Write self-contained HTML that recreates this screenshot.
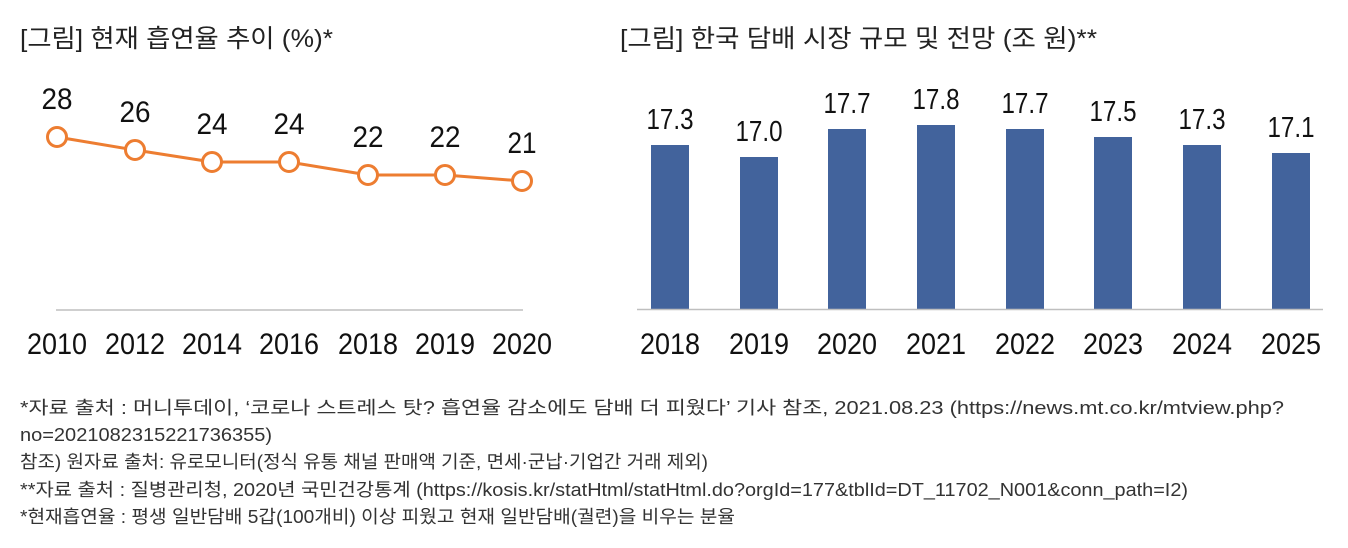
<!DOCTYPE html>
<html>
<head>
<meta charset="utf-8">
<style>
  html, body { margin:0; padding:0; background:#fff; }
  svg { display:block; }
  .ko { font-family: "Liberation Sans", "Noto Sans CJK KR", "NanumGothic", sans-serif; }
  .num { font-family: "Liberation Sans", "DejaVu Sans", sans-serif; fill:#111; }
</style>
</head>
<body>
<svg width="1348" height="548" viewBox="0 0 1348 548" xmlns="http://www.w3.org/2000/svg">
  <rect width="1348" height="548" fill="#fff"/>

  <!-- Titles -->
  <text class="ko" x="20" y="47" font-size="25" fill="#222" textLength="313" lengthAdjust="spacingAndGlyphs">[그림] 현재 흡연율 추이 (%)*</text>
  <text class="ko" x="620" y="47" font-size="25" fill="#222" textLength="477" lengthAdjust="spacingAndGlyphs">[그림] 한국 담배 시장 규모 및 전망 (조 원)**</text>

  <!-- Left chart axis -->
  <line x1="56" y1="310" x2="523" y2="310" stroke="#BFBFBF" stroke-width="1.5"/>

  <!-- Left line series -->
  <polyline points="57,137 135,150 212,162 289,162 368,175 445,175 522,181" fill="none" stroke="#ED7D31" stroke-width="3"/>
  <g fill="#fff" stroke="#ED7D31" stroke-width="3">
    <circle cx="57" cy="137" r="9.5"/>
    <circle cx="135" cy="150" r="9.5"/>
    <circle cx="212" cy="162" r="9.5"/>
    <circle cx="289" cy="162" r="9.5"/>
    <circle cx="368" cy="175" r="9.5"/>
    <circle cx="445" cy="175" r="9.5"/>
    <circle cx="522" cy="181" r="9.5"/>
  </g>
  <g class="num" font-size="30" text-anchor="middle">
    <text x="57" y="109" textLength="31" lengthAdjust="spacingAndGlyphs">28</text>
    <text x="135" y="122" textLength="31" lengthAdjust="spacingAndGlyphs">26</text>
    <text x="212" y="134" textLength="31" lengthAdjust="spacingAndGlyphs">24</text>
    <text x="289" y="134" textLength="31" lengthAdjust="spacingAndGlyphs">24</text>
    <text x="368" y="147" textLength="31" lengthAdjust="spacingAndGlyphs">22</text>
    <text x="445" y="147" textLength="31" lengthAdjust="spacingAndGlyphs">22</text>
    <text x="522" y="153" textLength="29" lengthAdjust="spacingAndGlyphs">21</text>
  </g>
  <g class="num" font-size="30" text-anchor="middle">
    <text x="57" y="354" textLength="60" lengthAdjust="spacingAndGlyphs">2010</text>
    <text x="135" y="354" textLength="60" lengthAdjust="spacingAndGlyphs">2012</text>
    <text x="212" y="354" textLength="60" lengthAdjust="spacingAndGlyphs">2014</text>
    <text x="289" y="354" textLength="60" lengthAdjust="spacingAndGlyphs">2016</text>
    <text x="368" y="354" textLength="60" lengthAdjust="spacingAndGlyphs">2018</text>
    <text x="445" y="354" textLength="60" lengthAdjust="spacingAndGlyphs">2019</text>
    <text x="522" y="354" textLength="60" lengthAdjust="spacingAndGlyphs">2020</text>
  </g>

  <!-- Right bar chart -->
  <g fill="#42639C">
    <rect x="651" y="145" width="38" height="164"/>
    <rect x="740" y="157" width="38" height="152"/>
    <rect x="828" y="129" width="38" height="180"/>
    <rect x="917" y="125" width="38" height="184"/>
    <rect x="1006" y="129" width="38" height="180"/>
    <rect x="1094" y="137" width="38" height="172"/>
    <rect x="1183" y="145" width="38" height="164"/>
    <rect x="1272" y="153" width="38" height="156"/>
  </g>
  <line x1="637" y1="309.5" x2="1323" y2="309.5" stroke="#BFBFBF" stroke-width="1.5"/>

  <g class="num" font-size="29" text-anchor="middle">
    <text x="670" y="129" textLength="47" lengthAdjust="spacingAndGlyphs">17.3</text>
    <text x="759" y="141" textLength="47" lengthAdjust="spacingAndGlyphs">17.0</text>
    <text x="847" y="113" textLength="47" lengthAdjust="spacingAndGlyphs">17.7</text>
    <text x="936" y="109" textLength="47" lengthAdjust="spacingAndGlyphs">17.8</text>
    <text x="1025" y="113" textLength="47" lengthAdjust="spacingAndGlyphs">17.7</text>
    <text x="1113" y="121" textLength="47" lengthAdjust="spacingAndGlyphs">17.5</text>
    <text x="1202" y="129" textLength="47" lengthAdjust="spacingAndGlyphs">17.3</text>
    <text x="1291" y="137" textLength="47" lengthAdjust="spacingAndGlyphs">17.1</text>
  </g>
  <g class="num" font-size="30" text-anchor="middle">
    <text x="670" y="354" textLength="60" lengthAdjust="spacingAndGlyphs">2018</text>
    <text x="759" y="354" textLength="60" lengthAdjust="spacingAndGlyphs">2019</text>
    <text x="847" y="354" textLength="60" lengthAdjust="spacingAndGlyphs">2020</text>
    <text x="936" y="354" textLength="60" lengthAdjust="spacingAndGlyphs">2021</text>
    <text x="1025" y="354" textLength="60" lengthAdjust="spacingAndGlyphs">2022</text>
    <text x="1113" y="354" textLength="60" lengthAdjust="spacingAndGlyphs">2023</text>
    <text x="1202" y="354" textLength="60" lengthAdjust="spacingAndGlyphs">2024</text>
    <text x="1291" y="354" textLength="60" lengthAdjust="spacingAndGlyphs">2025</text>
  </g>

  <!-- Footnotes -->
  <g class="ko" font-size="18" fill="#333">
    <text x="20" y="414" textLength="1264" lengthAdjust="spacingAndGlyphs">*자료 출처 : 머니투데이, ‘코로나 스트레스 탓? 흡연율 감소에도 담배 더 피웠다’ 기사 참조, 2021.08.23 (https://news.mt.co.kr/mtview.php?</text>
    <text x="20" y="441" textLength="252" lengthAdjust="spacingAndGlyphs">no=2021082315221736355)</text>
    <text x="20" y="468" textLength="688" lengthAdjust="spacingAndGlyphs">참조) 원자료 출처: 유로모니터(정식 유통 채널 판매액 기준, 면세·군납·기업간 거래 제외)</text>
    <text x="20" y="496" textLength="1168" lengthAdjust="spacingAndGlyphs">**자료 출처 : 질병관리청, 2020년 국민건강통계 (https://kosis.kr/statHtml/statHtml.do?orgId=177&amp;tblId=DT_11702_N001&amp;conn_path=I2)</text>
    <text x="20" y="523" textLength="715" lengthAdjust="spacingAndGlyphs">*현재흡연율 : 평생 일반담배 5갑(100개비) 이상 피웠고 현재 일반담배(궐련)을 비우는 분율</text>
  </g>
</svg>
</body>
</html>
